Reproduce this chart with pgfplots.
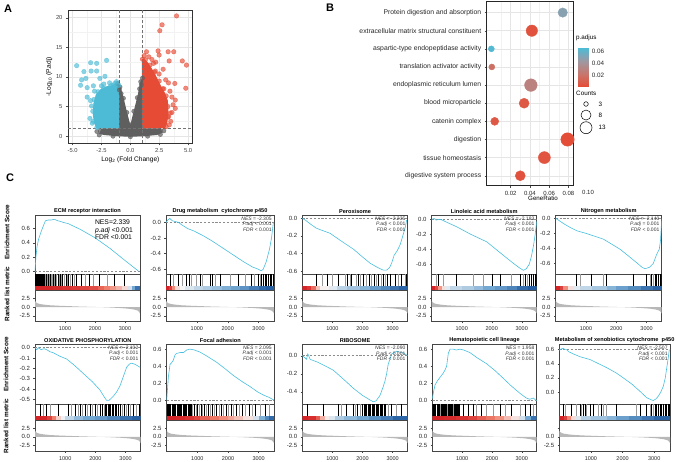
\documentclass[border=0pt]{standalone}
\usepackage{fontspec}
\setmainfont{Liberation Sans}
\usepackage{pgfplots}
\pgfplotsset{compat=1.18}
\definecolor{esblue}{RGB}{72,190,222}
\definecolor{vred}{RGB}{230,75,53}
\definecolor{vblue}{RGB}{77,187,213}
\definecolor{vgray}{RGB}{95,95,95}
\definecolor{frame}{RGB}{70,70,70}
\tikzset{nes/.style={anchor=north east, align=right, font=\fontsize{5}{5.8}\selectfont, inner sep=0.6pt, text=black!80}}
\pgfplotsset{
  colormap={gsea}{rgb255=(33,90,160) rgb255=(115,168,210) rgb255=(246,246,246) rgb255=(240,128,108) rgb255=(212,36,40)},
  colormap={padj}{rgb255=(230,75,53) rgb255=(200,118,108) rgb255=(158,152,162) rgb255=(77,187,213)},
  gbase/.style={scale only axis, anchor=north west, xmin=0, xmax=3500,
    axis line style={draw=frame, line width=0.5pt}, tick style={draw=frame, line width=0.4pt},
    tick align=outside, major tick length=1.6pt,
    xticklabel style={font=\fontsize{5.5}{6}\selectfont, text=black!85},
    yticklabel style={font=\fontsize{6}{6.5}\selectfont, text=black!85},
    /pgf/number format/assume math mode=true, scaled ticks=false},
  es/.style={gbase, xtick=\empty, ytick pos=left,
    yticklabel style={/pgf/number format/fixed,/pgf/number format/fixed zerofill,/pgf/number format/precision=1},
    title style={at={(0.5,1)},anchor=south,yshift=-5.6pt,inner sep=1pt,font=\bfseries\fontsize{5.6}{6}\selectfont}},
  bc/.style={gbase, height=16.7pt, ymin=-0.43, ymax=1, xtick=\empty, ytick=\empty,
    colormap name=gsea, point meta min=-1, point meta max=1},
  rk/.style={gbase, ymin=-4.2, ymax=4.7, ytick={-2.5,0,2.5}, xtick={1000,2000,3000}, ytick pos=left, xtick pos=bottom,
    yticklabel style={/pgf/number format/fixed,/pgf/number format/fixed zerofill,/pgf/number format/precision=1},
    xticklabel style={/pgf/number format/1000 sep={}}},
  zline/.style={black!45, dash pattern=on 2.2pt off 1.6pt, line width=0.5pt},
  escurve/.style={esblue, line width=0.6pt},
  bdark/.style={ycomb, black, line width=0.55pt},
  blight/.style={ycomb, black!40, line width=0.55pt},
  strip/.style={mesh, point meta=explicit, line width=5.2pt, line cap=butt},
}
\newcommand\rankedplot{\addplot[fill=black!28, draw=none] coordinates {(1,0) (1,1.8) (30,1.4) (80,1.1) (150,0.9) (300,0.7) (500,0.52) (800,0.38) (1100,0.28) (1500,0.15) (2000,0.03) (2400,-0.08) (2800,-0.25) (3100,-0.45) (3300,-0.7) (3420,-1.0) (3480,-1.5) (3500,-1.9) (3500,0)};}
\begin{document}
\begin{tikzpicture}
\path[use as bounding box] (0,0) rectangle (676pt,-461pt);

% ================= Panel A: volcano
\begin{axis}[scale only axis, anchor=north west, at={(68pt,-10pt)}, width=124.7pt, height=133.3pt,
  xmin=-5.4, xmax=5.4, ymin=-1.2, ymax=21.3,
  xtick={-5,-2.5,0,2.5,5}, ytick={0,5,10,15,20},
  minor xtick={-3.75,-1.25,1.25,3.75}, minor ytick={2.5,7.5,12.5,17.5},
  grid=both, major grid style={draw=black!10, line width=0.45pt}, minor grid style={draw=black!5, line width=0.3pt},
  axis line style={draw=black!80, line width=0.6pt}, tick align=outside, major tick length=2pt, minor tick length=0pt,
  tick style={draw=black!70, line width=0.4pt},
  xticklabel style={/pgf/number format/fixed,/pgf/number format/fixed zerofill,/pgf/number format/precision=1},
  ticklabel style={font=\fontsize{5.8}{6.5}\selectfont, text=black!75},
  xtick pos=bottom, ytick pos=left,
  xlabel={Log\textsubscript{2} (Fold Change)}, ylabel={-Log\textsubscript{10} (P.adj)},
  label style={font=\fontsize{6.6}{7.5}\selectfont},
  xlabel style={yshift=3pt}, ylabel style={yshift=-3pt},
  /pgf/number format/assume math mode=true, scaled ticks=false]
\addplot[fill=vgray, draw=none] coordinates {(-2.7,0.4) (-2.5,1.3) (-1.0,1.3) (-1.0,8.6) (-0.9,8.6) (-0.6,6.6) (-0.3,4.1) (0,1.9) (0.3,4.3) (0.6,6.6) (0.9,9.5) (1.0,9.5) (1.0,1.3) (2.6,1.3) (2.8,0.6) (2.3,0.2) (1.2,0.0) (0,-0.1) (-1.2,0.0) (-2.3,0.2)};
\addplot[only marks, mark=*, mark size=2.2pt, vgray, fill opacity=0.7, draw opacity=0.7] coordinates {(-1.1,8.9) (-0.95,7.8) (1.05,9.8) (0.95,8.7) (-2.9,0.8) (2.9,0.9) (-2.7,0.2) (2.6,0.3) (-0.8,7.2) (0.8,8.0) (-0.9,8.3) (-0.6,6.4) (-0.3,4.0) (0,1.9) (0.3,4.2) (0.6,6.5) (0.9,9.2) (-2.6,0.9) (2.6,0.9) (0,-0.1) (-1.5,0.0) (1.5,0.0)};
\addplot[fill=vblue, draw=none] coordinates {(-1.0,1.3) (-2.9,1.3) (-3.1,2.0) (-3.25,3.5) (-3.2,5.5) (-3.0,7.0) (-2.6,7.9) (-2.1,8.4) (-1.6,8.6) (-1.2,8.9) (-1.0,8.8)};
\addplot[only marks, mark=*, mark size=2.3pt, vblue, fill opacity=0.65, draw opacity=0.65] coordinates {(-4.65,11.9) (-3.44,12.4) (-2.92,12.3) (-4.02,10.9) (-2.06,12.8) (-2.92,11.0) (-3.4,11.0) (-4.22,9.5) (-3.85,9.75) (-2.64,9.75) (-2.2,10.1) (-4.31,8.6) (-3.74,8.2) (-1.49,8.6) (-1.35,8.9) (-3.36,5.1) (-3.74,6.6) (-2.92,3.55) (-2.78,1.6) (-3.1,7.6) (-2.5,8.5) (-1.8,9.0) (-3.5,3.0) (-3.3,2.2) (-3.45,6.0) (-2.3,8.8) (-1.2,9.2) (-3.2,8.5) (-3.2,2.5) (-3.25,4.2) (-3.15,6.2) (-2.8,7.5) (-2.3,8.1) (-1.7,8.5) (-1.0,8.6) (-2.9,1.5)};
\addplot[fill=vred, draw=none] coordinates {(1.0,1.3) (3.0,1.3) (3.2,2.2) (3.3,4.0) (3.25,6.0) (3.0,7.3) (2.7,8.3) (2.3,9.9) (1.9,11.3) (1.5,12.5) (1.15,13.1) (1.0,13.0)};
\addplot[only marks, mark=*, mark size=2.3pt, vred, fill opacity=0.65, draw opacity=0.65] coordinates {(4.0,20.3) (2.75,18.8) (2.55,17.8) (1.4,14.25) (2.4,14.4) (3.27,14.25) (2.49,13.7) (3.76,14.25) (3.36,12.7) (4.5,12.7) (4.86,12.0) (2.84,11.3) (2.49,10.5) (3.85,8.9) (4.8,8.1) (3.06,9.5) (3.43,7.6) (3.6,6.6) (3.89,6.1) (3.89,4.7) (3.31,3.3) (3.37,1.9) (1.87,12.95) (2.16,11.0) (1.87,9.6) (3.0,5.5) (2.6,4.4) (3.6,4.0) (3.5,2.5) (2.0,12.3) (1.6,13.4) (1.2,13.6) (2.9,8.0) (3.3,9.0) (3.7,5.3) (3.45,3.9) (2.2,12.5) (1.05,13.0) (1.3,12.9) (1.7,12.0) (2.1,10.8) (2.5,9.3) (2.8,8.0) (3.1,6.8) (3.25,5.0) (3.25,3.2) (3.1,1.6)};
\addplot[black!55, dash pattern=on 3pt off 2pt, line width=0.6pt] coordinates {(-1,-1.2) (-1,21.3)};
\addplot[black!55, dash pattern=on 3pt off 2pt, line width=0.6pt] coordinates {(1,-1.2) (1,21.3)};
\addplot[black!55, dash pattern=on 3pt off 2pt, line width=0.6pt] coordinates {(-5.4,1.3) (5.4,1.3)};
\end{axis}

% ================= Panel B: dot plot
\begin{axis}[scale only axis, anchor=north west, at={(486.7pt,-1.7pt)}, width=86.6pt, height=184pt,
  xmin=-0.0048, xmax=0.085, ymin=0.45, ymax=10.6,
  xtick={0.02,0.04,0.06,0.08}, minor xtick={0.01,0.03,0.05,0.07}, ytick={1,2,3,4,5,6,7,8,9,10},
  yticklabels={digestive system process, tissue homeostasis, digestion, catenin complex, blood microparticle, endoplasmic reticulum lumen, translation activator activity, aspartic-type endopeptidase activity, extracellular matrix structural constituent, Protein digestion and absorption},
  grid=both, major grid style={draw=black!10, line width=0.45pt}, minor grid style={draw=black!5, line width=0.3pt},
  axis line style={draw=black!85, line width=0.6pt}, tick align=outside, major tick length=2pt, minor tick length=0pt,
  tick style={draw=black!70, line width=0.4pt},
  xticklabel style={/pgf/number format/fixed,/pgf/number format/fixed zerofill,/pgf/number format/precision=2, font=\fontsize{6}{6.5}\selectfont},
  yticklabel style={font=\fontsize{6.8}{7.5}\selectfont},
  ticklabel style={text=black!85},
  xtick pos=bottom, ytick pos=left,
  xlabel={GeneRatio}, xlabel style={at={(axis description cs:0.65,0)}, anchor=north, yshift=-6.5pt, font=\fontsize{6.2}{6.8}\selectfont},
  /pgf/number format/assume math mode=true, scaled ticks=false, clip=false,
  colormap name=padj, point meta min=0.0017, point meta max=0.0657]
\addplot[scatter, only marks, mark=*, point meta=explicit,
  scatter/use mapped color={draw=mapped color, fill=mapped color},
  visualization depends on={\thisrow{r} \as \rad},
  scatter/@pre marker code/.append style={/tikz/mark size=\rad}] table[meta=p] {
x y p r
0.030 1 0.005 5.0
0.055 2 0.006 6.0
0.079 3 0.003 6.7
0.0035 4 0.008 4.0
0.034 5 0.008 5.0
0.041 6 0.030 6.3
0.0005 7 0.020 3.0
0.0 8 0.064 3.0
0.042 9 0.005 5.7
0.074 10 0.050 4.7
};
\end{axis}
\node[font=\fontsize{6}{6.5}\selectfont, text=black!85] at (588pt,-192.7pt) {0.10};

% colour bar legend
\node[anchor=west, font=\fontsize{6.3}{7}\selectfont, inner sep=0pt] at (576pt,-38.3pt) {p.adjus};
\begin{axis}[scale only axis, anchor=north west, at={(578.3pt,-48.3pt)}, width=10pt, height=38.4pt,
  xmin=0, xmax=1, ymin=0.0017, ymax=0.0657, xtick=\empty, ytick={0.02,0.04,0.06}, yticklabel pos=right,
  axis line style={draw=none}, major tick length=0pt,
  yticklabel style={/pgf/number format/fixed,/pgf/number format/fixed zerofill,/pgf/number format/precision=2, font=\fontsize{6.3}{7}\selectfont, text=black!85},
  /pgf/number format/assume math mode=true, scaled ticks=false,
  colormap name=padj, point meta min=0.0017, point meta max=0.0657]
\addplot[patch, shader=interp, point meta=explicit] coordinates {
(0,0.0017) [0.0017] (1,0.0017) [0.0017] (1,0.0657) [0.0657]
(0,0.0017) [0.0017] (1,0.0657) [0.0657] (0,0.0657) [0.0657]};
\end{axis}
\node[anchor=west, font=\fontsize{6.3}{7}\selectfont, inner sep=0pt] at (576pt,-93.3pt) {Counts};
\begin{axis}[scale only axis, anchor=north west, at={(576pt,-98pt)}, width=20pt, height=36pt,
  xmin=0, xmax=1, ymin=0, ymax=3, hide axis, clip=false]
\addplot[scatter, only marks, mark=o, black, line width=0.5pt,
  scatter/use mapped color={draw=black, fill=none},
  visualization depends on={\thisrow{r} \as \rad},
  scatter/@pre marker code/.append style={/tikz/mark size=\rad}] table {
x y r
0.5 2.5 2.3
0.5 1.58 5.0
0.5 0.525 6.0
};
\node[anchor=west, font=\fontsize{6.3}{7}\selectfont] at (axis cs:0.95,2.5) {3};
\node[anchor=west, font=\fontsize{6.3}{7}\selectfont] at (axis cs:0.95,1.58) {8};
\node[anchor=west, font=\fontsize{6.3}{7}\selectfont] at (axis cs:0.95,0.525) {13};
\end{axis}

% ================= Panel C row 1
% --- 1 ECM
\begin{axis}[es, width=105pt, height=59pt, at={(35pt,-215pt)}, ymin=-0.04, ymax=0.79, ytick={0,0.2,0.4,0.6}, title={ECM receptor interaction}]
\addplot[zline] coordinates {(0,0) (3500,0)};
\addplot[escurve] coordinates {(1,0) (30,0.2) (70,0.35) (120,0.45) (200,0.55) (280,0.64) (350,0.71) (450,0.72) (550,0.72) (650,0.73) (750,0.71) (850,0.70) (950,0.685) (1100,0.67) (1300,0.63) (1500,0.59) (2000,0.47) (2500,0.32) (3000,0.15) (3450,0.0)};
\node[anchor=north west, align=left, font=\fontsize{6.8}{7.6}\selectfont, inner sep=0pt] at (rel axis cs:0.57,0.92) {NES=2.339\\\textit{p.adj} <0.001\\FDR <0.001};
\end{axis}
\begin{axis}[bc, width=105pt, at={(35pt,-274pt)}]
\addplot[bdark] coordinates {(10,1) (25,1) (40,1) (55,1) (70,1) (85,1) (100,1) (115,1) (130,1) (150,1) (165,1) (180,1) (200,1) (215,1) (230,1) (250,1) (270,1) (290,1) (310,1) (380,1) (440,1) (500,1) (560,1) (620,1) (680,1) (760,1) (850,1) (920,1) (1030,1) (1120,1) (1250,1) (1360,1) (1541,1) (1793,1) (2146,1) (2641,1) (2972,1)};
\addplot[blight] coordinates {(350,1) (420,1) (470,1) (530,1) (590,1) (650,1) (720,1) (800,1) (880,1) (980,1) (1070,1) (1180,1) (1300,1) (1684,1) (1958,1) (2420,1)};
\addplot[strip] coordinates {(0,-0.215) [1] (300,-0.215) [1] (600,-0.215) [1] (900,-0.215) [0.95] (1200,-0.215) [0.9] (1500,-0.215) [0.85] (1800,-0.215) [0.8] (2100,-0.215) [0.75] (2300,-0.215) [0.55] (2500,-0.215) [0.45] (2700,-0.215) [0.35] (2900,-0.215) [0.2] (3100,-0.215) [0.05] (3250,-0.215) [-0.3] (3350,-0.215) [-0.7] (3500,-0.215) [-1]};
\end{axis}
\begin{axis}[rk, width=105pt, height=31pt, at={(35pt,-290.7pt)}]
\rankedplot
\end{axis}

% --- 2 Drug metabolism
\begin{axis}[es, width=108pt, height=59pt, at={(166pt,-215pt)}, ymin=-0.66, ymax=0.093, ytick={-0.6,-0.4,-0.2,0}, title={Drug metabolism\ \ cytochrome p450}]
\addplot[zline] coordinates {(0,0) (3500,0)};
\addplot[escurve] coordinates {(1,0) (60,0.03) (120,0.05) (200,0.02) (300,0.01) (400,0.0) (500,-0.03) (700,-0.08) (900,-0.11) (1200,-0.17) (1500,-0.24) (2000,-0.37) (2500,-0.5) (2800,-0.57) (3000,-0.6) (3080,-0.62) (3150,-0.6) (3250,-0.5) (3350,-0.35) (3420,-0.2) (3480,0.0)};
\node[nes] at (rel axis cs:0.985,0.985) {\textit{NES} = -2.305\\\textit{P.adj} < 0.001\\\textit{FDR} < 0.001};
\end{axis}
\begin{axis}[bc, width=108pt, at={(166pt,-274pt)}]
\addplot[bdark] coordinates {(151,1) (400,1) (670,1) (756,1) (1100,1) (1426,1) (1512,1) (1750,1) (2344,1) (2777,1) (2991,1) (3100,1) (3154,1) (3208,1) (3262,1) (3316,1) (3370,1) (3424,1) (3478,1)};
\addplot[blight] coordinates {(238,1) (540,1) (832,1) (994,1) (1188,1) (1588,1) (2074,1) (2560,1) (2852,1) (3050,1)};
\addplot[strip] coordinates {(0,-0.215) [1] (100,-0.215) [1] (200,-0.215) [0.7] (300,-0.215) [0.2] (450,-0.215) [0.05] (600,-0.215) [-0.05] (900,-0.215) [-0.15] (1200,-0.215) [-0.25] (1500,-0.215) [-0.3] (1800,-0.215) [-0.4] (2100,-0.215) [-0.5] (2400,-0.215) [-0.55] (2700,-0.215) [-0.7] (3000,-0.215) [-0.85] (3250,-0.215) [-0.95] (3500,-0.215) [-1]};
\end{axis}
\begin{axis}[rk, width=108pt, height=31pt, at={(166pt,-290.7pt)}]
\rankedplot
\end{axis}

% --- 3 Peroxisome
\begin{axis}[es, width=105.4pt, height=59pt, at={(302.3pt,-215pt)}, ymin=-0.634, ymax=0.038, ytick={-0.6,-0.4,-0.2,0}, title={Peroxisome}]
\addplot[zline] coordinates {(0,0) (3500,0)};
\addplot[escurve] coordinates {(1,0) (100,-0.02) (250,-0.06) (455,-0.11) (600,-0.13) (920,-0.17) (1300,-0.26) (1693,-0.35) (2000,-0.44) (2247,-0.51) (2500,-0.56) (2689,-0.59) (2800,-0.59) (2900,-0.56) (2967,-0.51) (3050,-0.42) (3150,-0.37) (3250,-0.3) (3354,-0.18) (3420,-0.1) (3465,-0.02)};
\node[nes] at (rel axis cs:0.985,0.985) {\textit{NES} = -2.235\\\textit{P.adj} < 0.001\\\textit{FDR} < 0.001};
\end{axis}
\begin{axis}[bc, width=105.4pt, at={(302.3pt,-274pt)}]
\addplot[bdark] coordinates {(477,1) (831,1) (1196,1) (1495,1) (1638,1) (1860,1) (2026,1) (2225,1) (2380,1) (2524,1) (2690,1) (2823,1) (2911,1) (3077,1) (3299,1) (3465,1)};
\addplot[blight] coordinates {(676,1) (997,1) (1417,1) (1583,1) (1782,1) (1915,1) (2137,1) (2303,1) (2447,1) (2635,1) (2745,1) (3188,1) (3410,1)};
\addplot[strip] coordinates {(0,-0.215) [1] (150,-0.215) [1] (300,-0.215) [0.8] (450,-0.215) [0.4] (600,-0.215) [0.05] (900,-0.215) [0] (1150,-0.215) [-0.15] (1500,-0.215) [-0.3] (1900,-0.215) [-0.35] (2250,-0.215) [-0.5] (2600,-0.215) [-0.65] (2900,-0.215) [-0.75] (3200,-0.215) [-0.9] (3500,-0.215) [-1]};
\end{axis}
\begin{axis}[rk, width=105.4pt, height=31pt, at={(302.3pt,-290.7pt)}]
\rankedplot
\end{axis}

% --- 4 Linoleic
\begin{axis}[es, width=105pt, height=59pt, at={(431.7pt,-215pt)}, ymin=-0.729, ymax=0.057, ytick={-0.6,-0.4,-0.2,0}, title={Linoleic acid metabolism}]
\addplot[zline] coordinates {(0,0) (3500,0)};
\addplot[escurve] coordinates {(1,0) (80,0.01) (150,-0.01) (250,0.0) (350,-0.01) (450,-0.03) (833,-0.1) (1300,-0.2) (1833,-0.3) (2388,-0.48) (2700,-0.58) (2900,-0.64) (3055,-0.68) (3150,-0.66) (3250,-0.6) (3320,-0.5) (3389,-0.36) (3450,-0.2) (3500,-0.02)};
\node[nes] at (rel axis cs:0.985,0.985) {\textit{NES} = -2.183\\\textit{P.adj} < 0.001\\\textit{FDR} < 0.001};
\end{axis}
\begin{axis}[bc, width=105pt, at={(431.7pt,-274pt)}]
\addplot[bdark] coordinates {(222,1) (833,1) (2033,1) (2278,1) (2944,1) (3111,1) (3255,1) (3333,1) (3389,1) (3444,1) (3495,1)};
\addplot[blight] coordinates {(167,1) (389,1) (1389,1) (1722,1) (2667,1) (3055,1) (3189,1)};
\addplot[strip] coordinates {(0,-0.215) [1] (120,-0.215) [1] (200,-0.215) [0.6] (330,-0.215) [0.2] (450,-0.215) [0] (600,-0.215) [-0.15] (1000,-0.215) [-0.25] (1400,-0.215) [-0.3] (1720,-0.215) [-0.45] (2100,-0.215) [-0.55] (2500,-0.215) [-0.65] (2830,-0.215) [-0.8] (3200,-0.215) [-0.95] (3500,-0.215) [-1]};
\end{axis}
\begin{axis}[rk, width=105pt, height=31pt, at={(431.7pt,-290.7pt)}]
\rankedplot
\end{axis}

% --- 5 Nitrogen
\begin{axis}[es, width=106pt, height=59pt, at={(555.7pt,-215pt)}, ymin=-0.74, ymax=0.044, ytick={-0.6,-0.4,-0.2,0}, title={Nitrogen metabolism}]
\addplot[zline] coordinates {(0,0) (3500,0)};
\addplot[escurve] coordinates {(1,0) (150,-0.04) (300,-0.08) (472,-0.12) (693,-0.165) (1000,-0.2) (1571,-0.276) (2122,-0.41) (2400,-0.5) (2673,-0.59) (2850,-0.65) (2948,-0.67) (3100,-0.65) (3222,-0.6) (3332,-0.48) (3420,-0.41) (3464,-0.28) (3500,0.0)};
\node[nes] at (rel axis cs:0.985,0.985) {\textit{NES} = -2.140\\\textit{P.adj} = 0.001\\\textit{FDR} < 0.001};
\end{axis}
\begin{axis}[bc, width=106pt, at={(555.7pt,-274pt)}]
\addplot[bdark] coordinates {(670,1) (1188,1) (1683,1) (2563,1) (3003,1) (3168,1) (3278,1) (3333,1) (3388,1) (3443,1) (3490,1)};
\addplot[blight] coordinates {(803,1) (1573,1) (3113,1) (3223,1)};
\addplot[strip] coordinates {(0,-0.215) [1] (150,-0.215) [1] (250,-0.215) [0.7] (420,-0.215) [0.2] (600,-0.215) [0] (800,-0.215) [-0.15] (1200,-0.215) [-0.25] (1700,-0.215) [-0.35] (2000,-0.215) [-0.5] (2400,-0.215) [-0.6] (2800,-0.215) [-0.75] (3200,-0.215) [-0.9] (3500,-0.215) [-1]};
\end{axis}
\begin{axis}[rk, width=106pt, height=31pt, at={(555.7pt,-290.7pt)}]
\rankedplot
\end{axis}

% ================= Panel C row 2
% --- 6 OXPHOS
\begin{axis}[es, width=105.7pt, height=60pt, at={(35pt,-344pt)}, ymin=-0.545, ymax=0.035, ytick={-0.5,-0.4,-0.3,-0.2,-0.1,0}, title={OXIDATIVE PHOSPHORYLATION}]
\addplot[zline] coordinates {(0,0) (3500,0)};
\addplot[escurve] coordinates {(1,0) (60,-0.02) (120,0.0) (200,-0.02) (300,-0.01) (386,-0.02) (500,-0.04) (607,-0.05) (800,-0.08) (1048,-0.11) (1300,-0.17) (1600,-0.25) (1900,-0.33) (2152,-0.41) (2300,-0.48) (2372,-0.51) (2450,-0.51) (2593,-0.47) (2700,-0.43) (2814,-0.37) (2900,-0.3) (3034,-0.19) (3120,-0.16) (3200,-0.15) (3300,-0.16) (3366,-0.17) (3477,-0.19)};
\node[nes] at (rel axis cs:0.985,0.985) {\textit{NES} = -2.102\\\textit{P.adj} < 0.001\\\textit{FDR} < 0.001};
\end{axis}
\begin{axis}[bc, width=105.7pt, at={(35pt,-404pt)}]
\addplot[bdark] coordinates {(166,1) (386,1) (772,1) (1103,1) (1324,1) (1490,1) (1655,1) (1821,1) (1986,1) (2152,1) (2240,1) (2328,1) (2372,1) (2417,1) (2461,1) (2505,1) (2549,1) (2593,1) (2648,1) (2703,1) (2758,1) (2814,1) (2946,1) (3090,1) (3255,1) (3455,1)};
\addplot[blight] coordinates {(276,1) (497,1) (1214,1) (1434,1) (1578,1) (1733,1) (1909,1) (2064,1) (2284,1) (2880,1) (3013,1) (3167,1) (3366,1)};
\addplot[strip] coordinates {(0,-0.215) [1] (200,-0.215) [1] (400,-0.215) [0.95] (550,-0.215) [0.7] (700,-0.215) [0.3] (850,-0.215) [0.05] (1000,-0.215) [-0.1] (1300,-0.215) [-0.3] (1600,-0.215) [-0.45] (2000,-0.215) [-0.55] (2400,-0.215) [-0.65] (2800,-0.215) [-0.8] (3200,-0.215) [-0.9] (3500,-0.215) [-1]};
\end{axis}
\begin{axis}[rk, width=105.7pt, height=30.5pt, at={(35pt,-420.7pt)}]
\rankedplot
\end{axis}

% --- 7 Focal adhesion
\begin{axis}[es, width=107.3pt, height=60pt, at={(166.7pt,-344pt)}, ymin=-0.046, ymax=0.66, ytick={0,0.2,0.4,0.6}, title={Focal adhesion}]
\addplot[zline] coordinates {(0,0) (3500,0)};
\addplot[escurve] coordinates {(1,0) (30,0.15) (54,0.27) (108,0.42) (160,0.44) (217,0.47) (270,0.53) (326,0.55) (450,0.56) (550,0.56) (652,0.59) (760,0.6) (900,0.59) (1086,0.565) (1300,0.52) (1630,0.445) (1900,0.37) (2174,0.29) (2450,0.22) (2716,0.16) (2950,0.1) (3152,0.06) (3350,0.03) (3500,0.0)};
\node[nes] at (rel axis cs:0.985,0.985) {\textit{NES} = 2.095\\\textit{P.adj} < 0.001\\\textit{FDR} < 0.001};
\end{axis}
\begin{axis}[bc, width=107.3pt, at={(166.7pt,-404pt)}]
\addplot[bdark] coordinates {(10,1) (50,1) (90,1) (130,1) (170,1) (210,1) (250,1) (290,1) (330,1) (370,1) (410,1) (450,1) (490,1) (530,1) (570,1) (610,1) (650,1) (690,1) (730,1) (770,1) (810,1) (900,1) (1000,1) (1120,1) (1230,1) (1350,1) (1480,1) (1620,1) (1780,1) (1930,1) (2100,1) (2260,1) (2470,1) (2700,1) (2900,1) (3200,1)};
\addplot[blight] coordinates {(850,1) (960,1) (1060,1) (1170,1) (1300,1) (1420,1) (1560,1) (1700,1) (1850,1) (2000,1) (2180,1) (2380,1) (2560,1) (2800,1) (3050,1) (3350,1)};
\addplot[strip] coordinates {(0,-0.215) [1] (300,-0.215) [1] (600,-0.215) [0.95] (900,-0.215) [0.9] (1100,-0.215) [0.75] (1400,-0.215) [0.6] (1700,-0.215) [0.5] (2000,-0.215) [0.4] (2200,-0.215) [0.3] (2500,-0.215) [0.15] (2800,-0.215) [0.02] (3000,-0.215) [-0.3] (3200,-0.215) [-0.6] (3350,-0.215) [-0.8] (3500,-0.215) [-1]};
\end{axis}
\begin{axis}[rk, width=107.3pt, height=30.5pt, at={(166.7pt,-420.7pt)}]
\rankedplot
\end{axis}

% --- 8 Ribosome
\begin{axis}[es, width=105.4pt, height=60pt, at={(302.3pt,-344pt)}, ymin=-0.535, ymax=0.13, ytick={-0.4,-0.2,0}, title={RIBOSOME}]
\addplot[zline] coordinates {(0,0) (3500,0)};
\addplot[escurve] coordinates {(1,0) (80,-0.02) (140,-0.04) (180,0.02) (200,0.01) (260,-0.04) (500,-0.07) (800,-0.12) (1029,-0.16) (1400,-0.27) (1693,-0.36) (2000,-0.44) (2247,-0.49) (2357,-0.51) (2450,-0.5) (2579,-0.44) (2680,-0.35) (2745,-0.28) (2800,-0.2) (2855,-0.09) (2920,-0.03) (2966,0.02) (3133,0.05) (3250,0.04) (3355,0.03) (3500,0.0)};
\node[nes] at (rel axis cs:0.985,0.985) {\textit{NES} = -2.090\\\textit{P.adj} < 0.001\\\textit{FDR} < 0.001};
\end{axis}
\begin{axis}[bc, width=105.4pt, at={(302.3pt,-404pt)}]
\addplot[bdark] coordinates {(167,1) (699,1) (1196,1) (1451,1) (1693,1) (1826,1) (2004,1) (2048,1) (2092,1) (2137,1) (2181,1) (2225,1) (2269,1) (2314,1) (2358,1) (2402,1) (2447,1) (2491,1) (2535,1) (2579,1) (2623,1) (2667,1) (2712,1) (2756,1) (2966,1) (3299,1)};
\addplot[blight] coordinates {(1307,1) (1749,1) (1915,1) (2855,1) (3110,1)};
\addplot[strip] coordinates {(0,-0.215) [1] (200,-0.215) [1] (450,-0.215) [0.9] (600,-0.215) [0.5] (750,-0.215) [0.1] (900,-0.215) [0] (1100,-0.215) [-0.2] (1400,-0.215) [-0.35] (1800,-0.215) [-0.45] (2200,-0.215) [-0.6] (2600,-0.215) [-0.7] (3000,-0.215) [-0.85] (3500,-0.215) [-1]};
\end{axis}
\begin{axis}[rk, width=105.4pt, height=30.5pt, at={(302.3pt,-420.7pt)}]
\rankedplot
\end{axis}

% --- 9 Hematopoietic
\begin{axis}[es, width=104.4pt, height=60pt, at={(432.3pt,-344pt)}, ymin=-0.04, ymax=0.66, ytick={0,0.2,0.4,0.6}, title={Hematopoietic cell lineage}]
\addplot[zline] coordinates {(0,0) (3500,0)};
\addplot[escurve] coordinates {(1,0.02) (40,0.1) (89,0.18) (170,0.23) (257,0.27) (368,0.32) (430,0.36) (480,0.4) (510,0.48) (536,0.55) (592,0.6) (700,0.6) (800,0.59) (927,0.6) (1050,0.59) (1262,0.56) (1500,0.5) (1820,0.43) (2100,0.35) (2378,0.26) (2650,0.17) (2937,0.085) (3150,0.03) (3272,0.015) (3384,0.03) (3450,0.01) (3500,0.0)};
\node[nes] at (rel axis cs:0.985,0.985) {\textit{NES} = 1.958\\\textit{P.adj} < 0.001\\\textit{FDR} < 0.001};
\end{axis}
\begin{axis}[bc, width=104.4pt, at={(432.3pt,-404pt)}]
\addplot[bdark] coordinates {(10,1) (45,1) (80,1) (115,1) (150,1) (185,1) (220,1) (290,1) (325,1) (360,1) (395,1) (430,1) (465,1) (535,1) (570,1) (605,1) (640,1) (675,1) (745,1) (780,1) (815,1) (850,1) (885,1) (920,1) (1039,1) (1206,1) (1373,1) (1652,1) (2266,1) (2657,1) (3104,1) (3272,1)};
\addplot[blight] coordinates {(255,1) (500,1) (710,1) (1485,1) (1820,1) (2043,1) (2434,1) (2937,1) (3384,1)};
\addplot[strip] coordinates {(0,-0.215) [1] (400,-0.215) [1] (800,-0.215) [0.95] (1200,-0.215) [0.9] (1500,-0.215) [0.75] (1800,-0.215) [0.6] (2100,-0.215) [0.5] (2400,-0.215) [0.35] (2650,-0.215) [0.15] (2900,-0.215) [0.02] (3100,-0.215) [-0.3] (3300,-0.215) [-0.7] (3500,-0.215) [-1]};
\end{axis}
\begin{axis}[rk, width=104.4pt, height=30.5pt, at={(432.3pt,-420.7pt)}]
\rankedplot
\end{axis}

% --- 10 Xenobiotics
\begin{axis}[es, width=110.7pt, height=60pt, at={(559.3pt,-344pt)}, ymin=-0.17, ymax=0.68, ytick={0,0.2,0.4,0.6}, title={Metabolism of xenobiotics cytochrome\ \ p450}]
\addplot[zline] coordinates {(0,0.6) (3500,0.6)};
\addplot[escurve] coordinates {(1,0.59) (60,0.61) (126,0.62) (180,0.6) (234,0.6) (300,0.57) (443,0.54) (654,0.5) (970,0.46) (1200,0.41) (1498,0.345) (1800,0.27) (2023,0.2) (2300,0.11) (2550,0.01) (2762,-0.08) (2900,-0.11) (2971,-0.12) (3050,-0.1) (3129,-0.06) (3210,0.0) (3287,0.08) (3350,0.2) (3393,0.33) (3440,0.47) (3478,0.6)};
\node[nes] at (rel axis cs:0.985,0.985) {\textit{NES} = -2.507\\\textit{P.adj} < 0.001\\\textit{FDR} < 0.001};
\end{axis}
\begin{axis}[bc, width=110.7pt, at={(559.3pt,-404pt)}]
\addplot[bdark] coordinates {(127,1) (391,1) (654,1) (759,1) (812,1) (970,1) (1075,1) (1339,1) (1813,1) (2550,1) (2761,1) (2919,1) (3024,1) (3077,1) (3130,1) (3182,1) (3235,1) (3288,1) (3340,1) (3393,1) (3446,1) (3490,1)};
\addplot[blight] coordinates {(180,1) (549,1) (707,1) (865,1) (1233,1) (1392,1) (1497,1) (2445,1) (2866,1) (2972,1)};
\addplot[strip] coordinates {(0,-0.215) [1] (150,-0.215) [1] (250,-0.215) [0.7] (380,-0.215) [0.25] (500,-0.215) [0] (700,-0.215) [-0.2] (1000,-0.215) [-0.3] (1500,-0.215) [-0.35] (1800,-0.215) [-0.5] (2200,-0.215) [-0.6] (2600,-0.215) [-0.75] (3000,-0.215) [-0.85] (3500,-0.215) [-1]};
\end{axis}
\begin{axis}[rk, width=110.7pt, height=30.5pt, at={(559.3pt,-420.7pt)}, yticklabels={-2.5,0.0,{}}]
\rankedplot
\end{axis}

% ================= labels
\node[font=\bfseries\fontsize{11}{12}\selectfont] at (8pt,-9pt) {A};
\node[font=\bfseries\fontsize{11}{12}\selectfont] at (330pt,-8pt) {B};
\node[font=\bfseries\fontsize{11}{12}\selectfont] at (10pt,-178pt) {C};
\node[rotate=90, font=\bfseries\fontsize{6.4}{7}\selectfont] at (7pt,-232pt) {Enrichment Score};
\node[rotate=90, font=\bfseries\fontsize{6.4}{7}\selectfont] at (7pt,-294pt) {Ranked list metric};
\node[rotate=90, font=\bfseries\fontsize{6.4}{7}\selectfont] at (6pt,-364pt) {Enrichment Score};
\node[rotate=90, font=\bfseries\fontsize{6.4}{7}\selectfont] at (6pt,-426pt) {Ranked list metric};
\end{tikzpicture}
\end{document}
